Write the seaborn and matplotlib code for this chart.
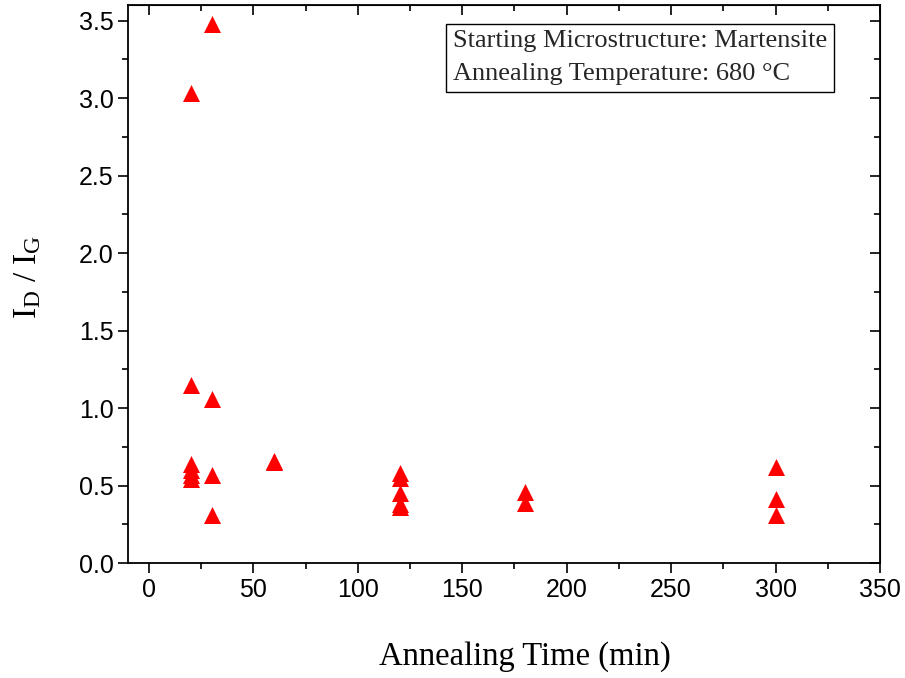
import numpy as np
import pandas as pd
import matplotlib
matplotlib.use("Agg")
import matplotlib.pyplot as plt
from matplotlib.ticker import MultipleLocator
import seaborn as sns

# annealing time (min) and I_D / I_G ratio
time_20 = [20, 20, 20, 20, 20, 20]
ratio_20 = [3.03, 1.15, 0.64, 0.60, 0.57, 0.54]
time_30 = [30, 30, 30, 30]
ratio_30 = [3.48, 1.06, 0.57, 0.31]
time_60 = [60, 60]
ratio_60 = [0.66, 0.65]
time_120 = [120, 120, 120, 120, 120]
ratio_120 = [0.58, 0.55, 0.45, 0.38, 0.36]
time_180 = [180, 180]
ratio_180 = [0.46, 0.39]
time_300 = [300, 300, 300]
ratio_300 = [0.62, 0.41, 0.31]

df = pd.DataFrame({
    "time": time_20 + time_30 + time_60 + time_120 + time_180 + time_300,
    "ratio": ratio_20 + ratio_30 + ratio_60 + ratio_120 + ratio_180 + ratio_300,
})

sns.set_style("ticks")
plt.rcParams["font.family"] = ["Liberation Sans", "DejaVu Sans"]
plt.rcParams["mathtext.fontset"] = "custom"
plt.rcParams["mathtext.rm"] = "Liberation Serif"
plt.rcParams["mathtext.it"] = "Liberation Serif:italic"
plt.rcParams["xtick.color"] = "black"
plt.rcParams["ytick.color"] = "black"
plt.rcParams["axes.labelcolor"] = "black"

fig = plt.figure(figsize=(9.05, 6.78), dpi=100)
ax = fig.add_axes([0.1414, 0.1696, 0.8310, 0.8230])

sns.scatterplot(data=df, x="time", y="ratio", marker="^", color="#ff0000",
                s=150, linewidth=0, ax=ax, legend=False)

ax.set_xlim(-10, 350)
ax.set_ylim(0, 3.6)
ax.xaxis.set_major_locator(MultipleLocator(50))
ax.xaxis.set_minor_locator(MultipleLocator(25))
ax.yaxis.set_minor_locator(MultipleLocator(0.25))
ax.set_yticks(np.arange(0, 3.51, 0.5))

for s in ax.spines.values():
    s.set_linewidth(1.3)
    s.set_color("black")

ax.tick_params(which="both", direction="out", top=False, right=False,
               width=1.2, labelsize=18, colors="black")
ax.tick_params(which="major", length=7)
ax.tick_params(which="minor", length=4)

# inward ticks on the top and right spines
ax2 = ax.secondary_xaxis("top")
ax2.xaxis.set_major_locator(MultipleLocator(50))
ax2.xaxis.set_minor_locator(MultipleLocator(25))
ax2.tick_params(which="both", direction="in", labeltop=False, width=1.2)
ax2.tick_params(which="major", length=7)
ax2.tick_params(which="minor", length=4)
ay2 = ax.secondary_yaxis("right")
ay2.yaxis.set_major_locator(MultipleLocator(0.5))
ay2.yaxis.set_minor_locator(MultipleLocator(0.25))
ay2.tick_params(which="both", direction="in", labelright=False, width=1.2)
ay2.tick_params(which="major", length=7)
ay2.tick_params(which="minor", length=4)

ax.set_xlabel("Annealing Time (min)", family="Liberation Serif", fontsize=23.5,
              va="center")
ax.xaxis.set_label_coords(0.528, -0.168)
ax.set_ylabel(r"$\mathrm{I_D\ /\ I_G}$", fontsize=24, va="center")
ax.yaxis.set_label_coords(-0.133, 0.513)

ax.text(0.432, 0.955,
        "Starting Microstructure: Martensite\nAnnealing Temperature: 680 \u00b0C",
        transform=ax.transAxes, ha="left", va="top",
        family="Liberation Serif", fontsize=19, linespacing=1.65,
        bbox=dict(boxstyle="square,pad=0.25", facecolor="white",
                  edgecolor="black", linewidth=1.0))

fig.savefig("out.png", dpi=100)
